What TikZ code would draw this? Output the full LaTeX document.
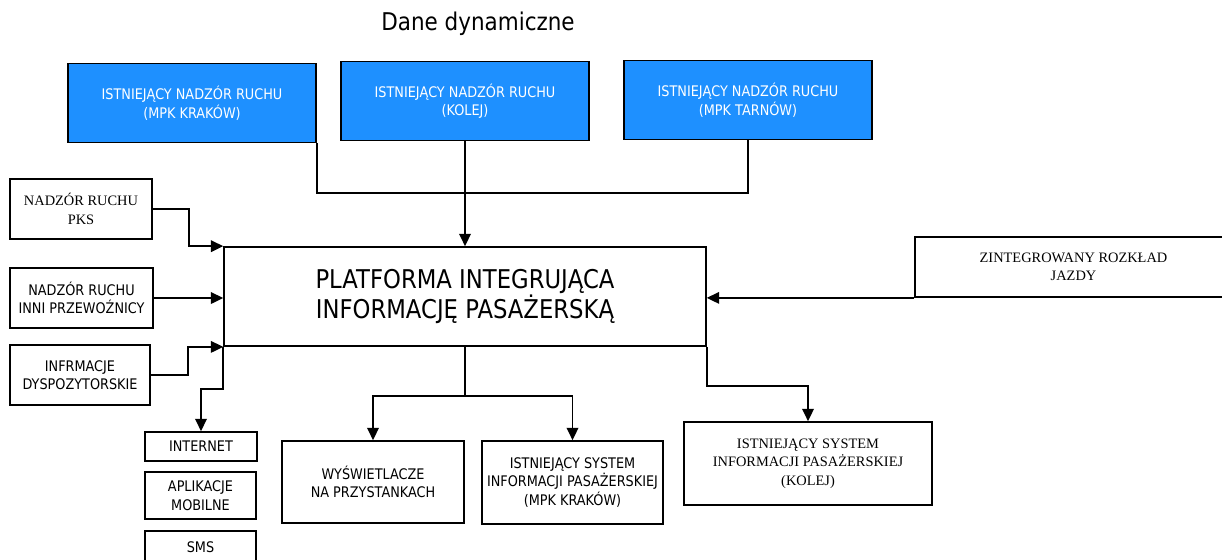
\documentclass[tikz,border=0pt]{standalone}
\usepackage{fontspec}
\newfontfamily\tahomafont[FakeStretch=0.88]{DejaVu Sans}
\newfontfamily\seriffont{Liberation Serif}
\usetikzlibrary{arrows.meta}
\definecolor{dodger}{HTML}{1E90FF}

\begin{document}
\begin{tikzpicture}[
    x=0.02cm, y=-0.02cm,
    box/.style={draw, line width=1pt, align=center, inner sep=0pt,
        font=\tahomafont\fontsize{8.3}{10.5}\selectfont},
    bluebox/.style={box, fill=dodger, text=white, minimum width=4.96cm, minimum height=1.58cm},
    serifbox/.style={box, font=\seriffont\fontsize{8.2}{10.5}\selectfont},
    arr/.style={-{Triangle[length=7pt, width=6.6pt]}, line width=1pt},
    wire/.style={line width=1pt}
]

    \useasboundingbox (0,0) rectangle (1222,559);

    \node[font=\tahomafont\fontsize{13.9}{16}\selectfont] (title) at (478,24) {Dane dynamiczne};

    \foreach \n/\x/\y/\t in {kr/192/103/{ISTNIEJĄCY NADZÓR RUCHU\\(MPK KRAKÓW)},
                             kol/465/101/{ISTNIEJĄCY NADZÓR RUCHU\\(KOLEJ)},
                             tar/748/100/{ISTNIEJĄCY NADZÓR RUCHU\\(MPK TARNÓW)}}
        \node[bluebox] (\n) at (\x,\y) {\t};

    \node[box, minimum width=9.64cm, minimum height=1.98cm,
          font=\tahomafont\fontsize{14.7}{17}\selectfont] (plat) at (465,296.5)
        {PLATFORMA INTEGRUJĄCA\\INFORMACJĘ PASAŻERSKĄ};

    \node[serifbox, minimum width=2.84cm, minimum height=1.2cm] (pks) at (81,209) {NADZÓR RUCHU\\PKS};
    \node[box, minimum width=2.86cm, minimum height=1.2cm] (inni) at (81.5,298) {NADZÓR RUCHU\\INNI PRZEWOŹNICY};
    \node[box, minimum width=2.8cm, minimum height=1.2cm] (dysp) at (80,375) {INFRMACJE\\DYSPOZYTORSKIE};

    \node[serifbox, minimum width=6.34cm, minimum height=1.2cm] (zint) at (1073.5,267) {ZINTEGROWANY ROZKŁAD\\JAZDY};

    \node[box, minimum width=2.24cm, minimum height=0.58cm] (inet) at (201,446.5) {INTERNET};
    \node[box, minimum width=2.22cm, minimum height=0.94cm] (aplik) at (200.5,495.5) {APLIKACJE\\MOBILNE};
    \node[box, minimum width=2.22cm, minimum height=0.64cm] (sms) at (200.5,547) {SMS};

    \node[box, minimum width=3.64cm, minimum height=1.64cm] (wysw) at (373,482) {WYŚWIETLACZE\\NA PRZYSTANKACH};
    \node[box, minimum width=3.62cm, minimum height=1.66cm] (sysmpk) at (572.5,482.5)
        {ISTNIEJĄCY SYSTEM\\INFORMACJI PASAŻERSKIEJ\\(MPK KRAKÓW)};
    \node[serifbox, minimum width=4.96cm, minimum height=1.66cm] (syskol) at (808,463.5)
        {ISTNIEJĄCY SYSTEM\\INFORMACJI PASAŻERSKIEJ\\(KOLEJ)};

    \coordinate (jtop) at (465,193);
    \draw[wire] (kr.south east) |- (jtop);
    \draw[wire] (tar.south) |- (jtop);
    \draw[arr] (kol.south) -- (kol.south |- plat.north);

    \draw[arr] (pks.east) -- ++(36,0) |- (plat.north west);
    \draw[arr] (inni.east) -- (inni.east -| plat.west);
    \draw[arr] (dysp.east) -- ++(37,0) |- (plat.south west);

    \draw[arr] (zint.south west) -- (zint.south west -| plat.east);

    \draw[arr] (plat.south west) -- ++(0,42) -| (inet.north);
    \draw[arr] (plat.south east) -- ++(0,39) -| (syskol.north);

    \draw[wire] (plat.south) -- ++(0,49) coordinate (jbot);
    \draw[arr] (jbot) -| (wysw.north);
    \draw[arr] (jbot) -| (sysmpk.north);

\end{tikzpicture}
\end{document}
